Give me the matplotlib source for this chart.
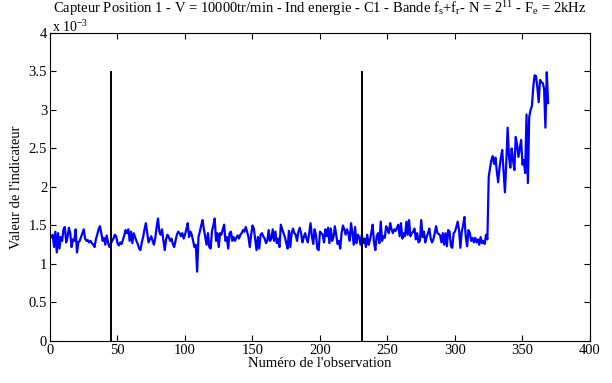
import matplotlib
matplotlib.use("Agg")
import matplotlib.pyplot as plt
import numpy as np

plt.rcParams['font.family'] = ['Liberation Serif', 'DejaVu Serif']
plt.rcParams['mathtext.fontset'] = 'custom'
plt.rcParams['mathtext.rm'] = 'Liberation Serif'
plt.rcParams['mathtext.it'] = 'Liberation Serif'
plt.rcParams['mathtext.default'] = 'regular'

# Indicator values (x 10^-3), one per observation
indicator = [
    1.35, 1.38, 1.22, 1.42, 1.15, 1.40, 1.20, 1.35, 1.30, 1.45,
    1.48, 1.28, 1.35, 1.47, 1.40, 1.22, 1.32, 1.30, 1.45, 1.15,
    1.28, 1.30, 1.35, 1.40, 1.45, 1.33, 1.30, 1.31, 1.28, 1.30,
    1.27, 1.25, 1.22, 1.32, 1.38, 1.45, 1.49, 1.40, 1.30, 1.34,
    1.25, 1.37, 1.28, 1.22, 1.26, 1.30, 1.33, 1.38, 1.36, 1.27,
    1.24, 1.28, 1.26, 1.31, 1.37, 1.44, 1.40, 1.45, 1.30, 1.42,
    1.27, 1.40, 1.35, 1.30, 1.26, 1.20, 1.18, 1.28, 1.35, 1.45,
    1.53, 1.40, 1.28, 1.32, 1.36, 1.30, 1.25, 1.34, 1.48, 1.59,
    1.42, 1.38, 1.45, 1.30, 1.18, 1.32, 1.38, 1.35, 1.30, 1.33,
    1.26, 1.22, 1.30, 1.38, 1.42, 1.40, 1.36, 1.40, 1.33, 1.38,
    1.45, 1.53, 1.35, 1.42, 1.38, 1.30, 1.22, 1.25, 0.90, 1.35,
    1.42, 1.50, 1.57, 1.45, 1.35, 1.25, 1.40, 1.22, 1.20, 1.43,
    1.50, 1.59, 1.30, 1.40, 1.22, 1.40, 1.38, 1.45, 1.51, 1.30,
    1.35, 1.20, 1.40, 1.42, 1.30, 1.35, 1.30, 1.34, 1.37, 1.33,
    1.38, 1.40, 1.44, 1.42, 1.48, 1.42, 1.35, 1.22, 1.38, 1.50,
    1.46, 1.32, 1.18, 1.35, 1.20, 1.38, 1.40, 1.36, 1.33, 1.27,
    1.30, 1.44, 1.30, 1.33, 1.45, 1.30, 1.42, 1.27, 1.33, 1.22,
    1.51, 1.45, 1.40, 1.35, 1.27, 1.20, 1.43, 1.22, 1.40, 1.46,
    1.40, 1.38, 1.30, 1.42, 1.47, 1.40, 1.28, 1.35, 1.40, 1.33,
    1.28, 1.40, 1.53, 1.36, 1.26, 1.45, 1.38, 1.20, 1.18, 1.42,
    1.40, 1.38, 1.28, 1.45, 1.36, 1.47, 1.27, 1.46, 1.30, 1.35,
    1.49, 1.38, 1.26, 1.30, 1.20, 1.40, 1.50, 1.45, 1.38, 1.45,
    1.40, 1.30, 1.53, 1.40, 1.25, 1.48, 1.27, 1.38, 1.35, 1.25,
    1.38, 1.27, 1.33, 1.22, 1.38, 1.25, 1.31, 1.40, 1.51, 1.28,
    1.18, 1.36, 1.40, 1.27, 1.55, 1.30, 1.36, 1.34, 1.49, 1.45,
    1.40, 1.53, 1.45, 1.40, 1.45, 1.43, 1.47, 1.51, 1.36, 1.53,
    1.33, 1.40, 1.36, 1.55, 1.38, 1.57, 1.36, 1.40, 1.42, 1.46,
    1.32, 1.40, 1.28, 1.30, 1.57, 1.35, 1.42, 1.28, 1.35, 1.40,
    1.46, 1.33, 1.28, 1.32, 1.40, 1.49, 1.40, 1.39, 1.37, 1.28,
    1.40, 1.25, 1.40, 1.23, 1.44, 1.42, 1.23, 1.21, 1.40, 1.42,
    1.48, 1.55, 1.44, 1.21, 1.42, 1.50, 1.61, 1.35, 1.23, 1.44,
    1.40, 1.30, 1.34, 1.28, 1.34, 1.28, 1.32, 1.25, 1.35, 1.27,
    1.30, 1.26, 1.38, 1.32, 2.13, 2.25, 2.35, 2.40, 2.30, 2.38,
    2.20, 2.06, 2.25, 2.38, 2.48, 2.20, 1.93, 2.30, 2.77, 2.40,
    2.25, 2.50, 2.35, 2.22, 2.65, 2.55, 2.39, 2.50, 2.61, 2.29,
    2.35, 2.18, 2.94, 2.05, 2.91, 3.00, 3.05, 3.30, 3.45, 3.44,
    3.30, 3.10, 3.39, 3.36, 3.35, 3.28, 2.77, 3.49, 3.09,
]
observation = np.arange(1, len(indicator) + 1)

# Observation indices marked by vertical lines, and their height
markers = [45, 231]
marker_top = 3.5

x_ticks = [0, 50, 100, 150, 200, 250, 300, 350, 400]
y_ticks = [0, 0.5, 1, 1.5, 2, 2.5, 3, 3.5, 4]
y_tick_labels = ['0', '0.5', '1', '1.5', '2', '2.5', '3', '3.5', '4']

fig = plt.figure(figsize=(6.12, 3.83), dpi=100)
ax = fig.add_axes([0.0817, 0.1097, 0.8823, 0.8043])

ax.plot(observation, indicator, color='#0000ff', linewidth=1.6)
ax.vlines(markers, 0, marker_top, colors='black', linewidth=1.4)

ax.set_xlim(0, 400)
ax.set_ylim(0, 4)
ax.set_xticks(x_ticks)
ax.set_yticks(y_ticks)
ax.set_yticklabels(y_tick_labels)
ax.tick_params(direction='in', top=True, right=True, length=4, width=0.8,
               labelsize=10.5, pad=2)
for s in ax.spines.values():
    s.set_linewidth(0.8)

ax.set_xlabel("Numéro de l'observation", fontsize=10.5, labelpad=0)
ax.set_ylabel("Valeur de l'indicateur", fontsize=10.5, labelpad=4)
ax.set_title("Capteur Position 1 - V = 10000tr/min - Ind energie - C1 - Bande "
             "f$_s$+f$_r$- N = 2$^{11}$ - F$_e$ = 2kHz",
             fontsize=10.5, pad=14)
ax.text(0.003, 1.004, "x 10$^{-3}$", transform=ax.transAxes, fontsize=10,
        ha='left', va='baseline')

fig.savefig("out.png", dpi=100)
